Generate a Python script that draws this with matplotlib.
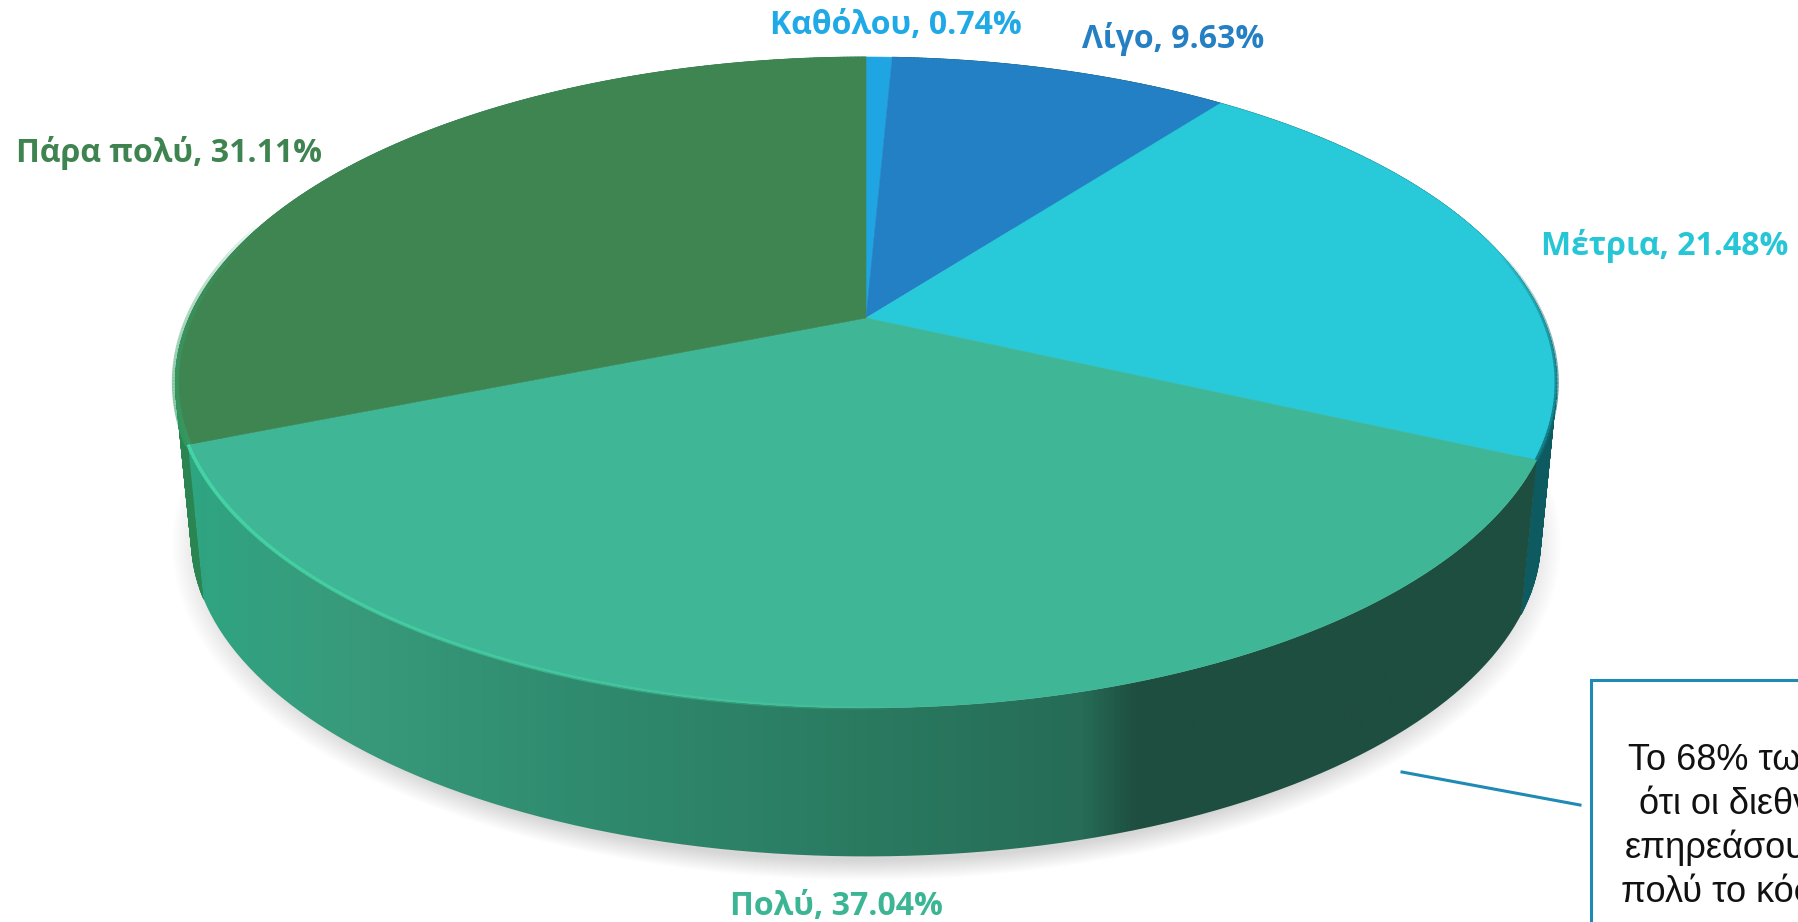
import matplotlib
matplotlib.use("Agg")
import matplotlib.pyplot as plt
import numpy as np
from matplotlib.collections import LineCollection, PolyCollection
from matplotlib.colors import LinearSegmentedColormap, to_rgba
from matplotlib.patches import PathPatch, Polygon, Rectangle
from matplotlib.path import Path

categories = ["Καθόλου", "Λίγο", "Μέτρια", "Πολύ", "Πάρα πολύ"]
values = [0.74, 9.63, 21.48, 37.04, 31.11]
top_colors = ["#1fa6e2", "#2480c4", "#28cad9", "#3fb797", "#3f8552"]
label_colors = ["#1fa9e6", "#2580c3", "#27c6d6", "#3cb595", "#3f8450"]
label_pos = [(896, 26), (1173, 39), (1665, 246), (836, 906), (169, 153)]
note_lines = ["Το 68% των", "ότι οι διεθνείς", "επηρεάσουν", "πολύ το κόσμο"]
note_x = [1628, 1639, 1625, 1621]

W, H = 1799, 922
CX, HUB_Y = 866, 318
B, A, K = 677, 312.7, 0.198  # perspective of the top disc
ELL_Y, SCALE, LOW_Y = 382, 0.977, 538  # lower rim relative to upper rim
LINE_COLOR = "#1f8ab5"


def top_rim(deg):
    t = np.radians(deg)
    u, v = np.sin(t), np.cos(t)
    d = 1 + K * v
    return CX + B * u / d, HUB_Y - A * v / d


def low_rim(deg):
    x, y = top_rim(deg)
    return CX + (x - CX) * SCALE, LOW_Y + (y - ELL_Y) * SCALE


def wall_xy(a0, a1):
    deg = np.linspace(a0, a1, 200)
    tx, ty = top_rim(deg)
    lx, ly = low_rim(deg[::-1])
    return np.column_stack([np.r_[tx, lx], np.r_[ty, ly]])


def wall_quads(a0, a1, n=300):
    deg = np.linspace(a0, a1, n)
    tx, ty = top_rim(deg)
    lx, ly = low_rim(deg)
    return [[(tx[i], ty[i]), (tx[i + 1], ty[i + 1]), (lx[i + 1], ly[i + 1]), (lx[i], ly[i])]
            for i in range(n - 1)]


def fading_rim(a0, a1, color, width, start, zorder=5):
    deg = np.linspace(a0, a1, 160)
    x, y = top_rim(deg)
    pts = np.column_stack([x, y]).reshape(-1, 1, 2)
    segs = np.concatenate([pts[:-1], pts[1:]], axis=1)
    fade = start * np.linspace(1, 0, len(segs)) ** 0.6
    cols = [to_rgba(color, a) for a in fade]
    ax.add_collection(LineCollection(segs, colors=cols, linewidths=width, zorder=zorder))


fig = plt.figure(figsize=(W / 100, H / 100), dpi=100)
ax = fig.add_axes([0, 0, 1, 1])
ax.axis("off")

edges = np.cumsum([0] + values) * 3.6

# soft shadow under the disc
gx, gy = np.meshgrid(np.arange(W), np.arange(H))
dist = np.hypot((gx - CX) / 695, (gy - 545) / 335)
shade = np.clip((1.0 - dist) / 0.06, 0, 1)
rgba = np.zeros((H, W, 4))
rgba[..., :3] = 0.5
rgba[..., 3] = shade * 0.32
ax.imshow(rgba, extent=(0, W, H, 0), zorder=1, interpolation="bilinear")

# side walls, back ones first
for a0, a1, col in [(edges[1], edges[3], "#0d5a60"), (edges[4], edges[5], "#2a8553")]:
    ax.add_collection(PolyCollection(wall_quads(a0, a1), facecolors=col, edgecolors=col,
                                     linewidths=0.6, zorder=2))

front = wall_xy(edges[3], edges[4])
front_patch = PathPatch(Path(front), fc="none", ec="none", transform=ax.transData)
ax.add_patch(front_patch)
wall_cmap = LinearSegmentedColormap.from_list("wall", [
    (0.00, "#2fa582"), (0.12, "#389a7b"), (0.30, "#2f8a6e"), (0.50, "#2a7a60"),
    (0.66, "#266c57"), (0.70, "#1e4e40"), (1.00, "#1e4e40"),
])
img = ax.imshow(np.linspace(0, 1, 512)[None, :], cmap=wall_cmap, aspect="auto",
                extent=(185, 1545, 860, 400), zorder=3)
img.set_clip_path(front_patch)

# top faces
for i, col in enumerate(top_colors):
    deg = np.linspace(edges[i], edges[i + 1], 200)
    x, y = top_rim(deg)
    pts = np.column_stack([np.r_[CX, x], np.r_[HUB_Y, y]])
    ax.add_patch(Polygon(pts, fc=col, ec=col, lw=0.4, zorder=4))

# bevels along the rim
fading_rim(edges[4], 178, "#47d8a8", 2.6, 0.95)
fading_rim(edges[4], 288, "#35a066", 5, 0.7)
fading_rim(edges[3], 78, "#0e6a72", 3, 0.9)

for cat, val, col, (lx, ly) in zip(categories, values, label_colors, label_pos):
    ax.text(lx, ly, f"{cat}, {val:.2f}%", color=col, fontsize=23, fontweight="bold",
            family="Open Sans", ha="center", va="center", zorder=6)

# callout, runs off the page like the source slide
ax.plot([1402, 1580], [772, 805], color=LINE_COLOR, lw=2.2, zorder=6)
ax.add_patch(Rectangle((1591, 680), 400, 400, fc="white", ec=LINE_COLOR, lw=2.2, zorder=6))
for i, (line, nx) in enumerate(zip(note_lines, note_x)):
    ax.text(nx, 770 + 44 * i, line, color="#111111", fontsize=26, family="Liberation Sans",
            ha="left", va="baseline", zorder=7, clip_on=True)

ax.set_xlim(0, W)
ax.set_ylim(H, 0)
fig.savefig("out.png", dpi=100, facecolor="white")
